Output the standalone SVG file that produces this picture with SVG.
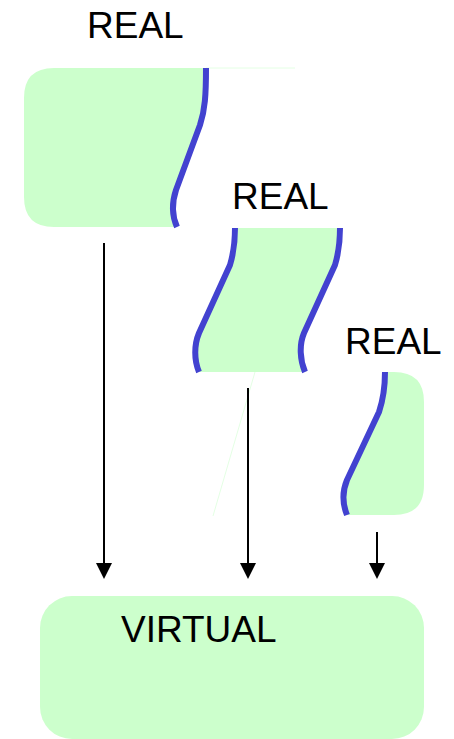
<svg xmlns="http://www.w3.org/2000/svg" width="454" height="739" viewBox="0 0 454 739">
  <style>
    .label { font-family: "Liberation Sans", Arial, sans-serif; font-size: 37px; fill: #000; }
    .area { fill: #ccffcc; stroke: none; }
    .cut { fill: none; stroke: #4242d0; stroke-width: 6; stroke-linecap: butt; stroke-linejoin: round; }
    .seam { fill: none; stroke: #e4ffe4; stroke-width: 1; }
    .link { stroke: #000; stroke-width: 2; fill: none; }
  </style>
  <defs>
    <marker id="head" viewBox="0 0 16 16" refX="0" refY="8" markerWidth="16" markerHeight="16" markerUnits="userSpaceOnUse" orient="auto">
      <path d="M0,0 L16,8 L0,16 Z" fill="#000"/>
    </marker>
  </defs>

  <!-- first real segment: rounded on the left, torn on the right -->
  <g id="real1">
    <path class="seam" d="M206,68 H295"/>
    <path class="area" d="M54,68 H206 C206,95 205,110 200,125 L176,190 C171,205 173,218 177,227 H54 Q24,227 24,197 V98 Q24,68 54,68 Z"/>
    <path class="cut" d="M206,68 C206,95 205,110 200,125 L176,190 C171,205 173,218 177,227"/>
    <text class="label" x="87" y="38">REAL</text>
  </g>

  <!-- middle real segment: torn on both sides -->
  <g id="real2">
    <path class="area" d="M235,228 H340 C340,245 338,255 335,265 L304,333 C299,345 300,360 305,372 H199 C194,360 194,345 199,333 L230,265 C233,255 235,245 235,228 Z"/>
    <path class="cut" d="M235,228 C235,245 233,255 230,265 L199,333 C194,345 194,360 199,372"/>
    <path class="cut" d="M340,228 C340,245 338,255 335,265 L304,333 C299,345 300,360 305,372"/>
    <text class="label" x="232" y="209">REAL</text>
  </g>

  <!-- last real segment: torn on the left, rounded on the right -->
  <g id="real3">
    <path class="seam" d="M255,372 L213,516"/>
    <path class="area" d="M385,372 H394 Q424,372 424,402 V485 Q424,515 394,515 H347 C343,505 342,492 347,480 L379,412 C383,400 385,390 385,372 Z"/>
    <path class="cut" d="M385,372 C385,390 383,400 379,412 L347,480 C342,492 343,505 347,515"/>
    <text class="label" x="345" y="354">REAL</text>
  </g>

  <!-- combined virtual space -->
  <g id="virtual">
    <rect class="area" x="40" y="596" width="384" height="143" rx="32" ry="32"/>
    <text class="label" x="121" y="642">VIRTUAL</text>
  </g>

  <g id="connectors">
    <line class="link" x1="104" y1="243" x2="104" y2="563" marker-end="url(#head)"/>
    <line class="link" x1="248" y1="388" x2="248" y2="563" marker-end="url(#head)"/>
    <line class="link" x1="377" y1="532" x2="377" y2="563" marker-end="url(#head)"/>
  </g>
</svg>
